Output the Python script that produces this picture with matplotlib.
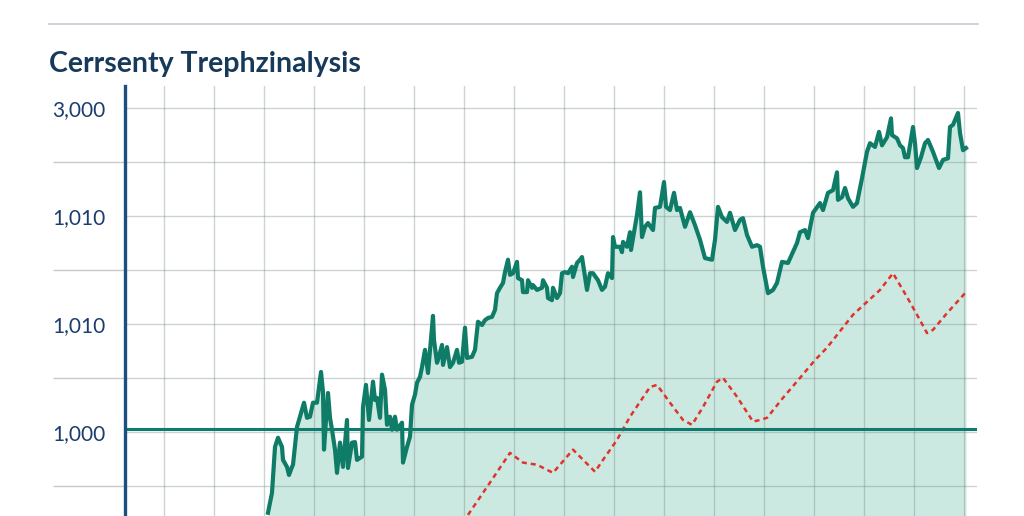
import matplotlib
matplotlib.use("Agg")
import matplotlib.pyplot as plt
from matplotlib.lines import Line2D
import numpy as np

# 値は画像から読み取り (x: 時間, y: 指数)
green_x = [20.8, 21.6, 22.2, 22.8, 23.6, 23.8, 24.6, 25.0, 25.6, 25.8, 26.6, 27.2, 28.0, 28.6, 29.2,
           29.8, 30.6, 31.4, 31.8, 32.0, 32.4, 32.8, 33.2, 33.6, 34.2, 34.6, 35.2, 35.8, 36.6, 36.8,
           37.6, 38.2, 38.6, 39.6, 39.8, 40.4, 41.0, 41.8, 42.2, 42.6, 43.2, 43.6, 44.2, 44.6, 45.2,
           45.6, 46.2, 46.6, 47.6, 47.8, 48.6, 49.2, 49.6, 50.2, 50.6, 51.2, 51.6, 52.2, 52.8, 53.8,
           54.0, 54.6, 54.8, 55.6, 55.8, 56.6, 57.2, 57.8, 58.6, 59.0, 59.6, 60.2, 60.6, 61.6, 62.2,
           62.8, 63.6, 64.2, 64.8, 65.6, 66.2, 66.6, 67.2, 67.8, 68.2, 68.8, 69.2, 69.8, 70.6, 70.8,
           71.6, 71.8, 72.6, 72.8, 73.6, 73.8, 74.6, 75.6, 75.8, 76.6, 76.8, 77.6, 77.8, 78.6, 79.2,
           79.6, 80.2, 80.8, 81.6, 81.8, 82.6, 83.2, 83.6, 84.2, 84.6, 85.2, 85.8, 86.8, 87.6, 88.2,
           88.8, 89.6, 89.8, 90.2, 91.2, 91.6, 91.8, 92.6, 93.2, 93.4, 94.6, 95.2, 95.6, 96.2, 96.8,
           97.8, 98.2, 99.2, 100.0, 100.4, 101.2, 102.0, 102.6, 103.2, 104.2, 105.2, 106.2, 107.2, 108.2, 109.6,
           110.2, 110.8, 111.6, 112.6, 113.2, 114.2, 115.2, 115.8, 116.6, 117.6, 118.6, 119.2, 119.8, 120.8, 121.8,
           122.6, 123.6, 124.8, 126.6, 127.2, 128.2, 128.8, 129.8, 131.2, 131.8, 132.8, 133.8, 134.6, 134.8, 135.6,
           136.2, 136.8, 137.8, 138.6, 139.6, 140.6, 141.2, 142.2, 143.0, 143.6, 144.6, 145.4, 145.6, 146.6, 147.2,
           147.8, 148.2, 148.8, 149.8, 150.2, 150.6, 151.4, 152.2, 152.8, 153.8, 155.0, 155.8, 156.8, 157.2, 157.8,
           158.8, 159.2, 159.8, 160.4]
green_y = [-5.0, -1.3, 7.2, 8.9, 7.2, 4.8, 3.5, 2.0, 3.5, 3.9, 10.9, 12.8, 15.4, 12.6, 12.8,
           15.4, 15.4, 21.1, 17.4, 6.7, 12.2, 17.2, 12.6, 10.4, 6.7, 2.4, 8.0, 3.5, 12.2, 3.3,
           8.0, 8.1, 4.8, 5.4, 14.6, 18.7, 12.2, 19.3, 15.9, 16.3, 12.6, 20.6, 17.8, 11.3, 12.8,
           10.4, 12.8, 10.4, 11.7, 4.3, 7.2, 9.1, 15.0, 16.9, 19.1, 20.2, 22.0, 25.2, 20.9, 31.5,
           27.0, 22.8, 23.3, 26.1, 22.4, 25.7, 22.0, 22.8, 25.2, 22.8, 23.0, 29.3, 23.7, 23.9, 25.2,
           30.4, 29.8, 30.7, 31.1, 31.3, 32.6, 35.7, 36.7, 37.6, 39.6, 41.9, 39.1, 39.4, 41.5, 38.5,
           38.1, 35.9, 35.9, 38.1, 36.7, 37.2, 36.3, 36.7, 38.1, 36.7, 34.8, 34.4, 36.7, 34.8, 35.7,
           39.4, 39.6, 39.4, 40.6, 38.7, 41.3, 41.9, 42.4, 38.7, 36.3, 39.4, 39.4, 38.1, 36.3, 36.9,
           39.4, 38.5, 46.1, 44.3, 44.3, 43.3, 45.2, 44.3, 47.0, 43.7, 50.2, 54.4, 46.1, 48.0, 48.7,
           47.4, 51.5, 51.7, 56.3, 51.7, 51.1, 54.3, 51.1, 51.5, 48.0, 50.7, 48.3, 45.6, 42.2, 41.9,
           45.6, 51.7, 49.8, 48.9, 50.6, 47.4, 49.3, 49.6, 46.5, 44.3, 44.6, 44.3, 40.6, 35.7, 36.3,
           37.6, 41.5, 41.3, 45.0, 47.0, 47.4, 45.9, 50.6, 52.4, 51.1, 54.3, 54.8, 58.1, 53.0, 53.5,
           55.2, 53.3, 51.7, 52.4, 57.0, 61.9, 63.5, 62.8, 65.6, 63.1, 64.6, 68.1, 65.0, 64.4, 63.1,
           62.6, 60.9, 60.9, 66.5, 63.5, 58.9, 60.9, 63.5, 64.1, 61.9, 58.9, 60.4, 60.7, 66.5, 66.9,
           69.1, 65.4, 62.2, 62.6]

red_x = [60.8, 65.2, 69.2, 71.8, 74.6, 77.8, 81.8, 86.2, 87.8, 90.6, 93.2, 97.2, 98.6, 101.2, 103.8,
         105.6, 107.8, 110.6, 111.8, 114.6, 117.8, 119.2, 120.6, 123.8, 127.2, 130.2, 132.6, 137.8, 143.2, 145.8,
         148.6, 151.2, 152.6, 153.8, 156.6, 160.4]
red_y = [-5.4, 0.6, 6.1, 4.3, 3.9, 2.4, 6.7, 2.6, 4.8, 8.5, 12.8, 18.3, 18.7, 15.4, 12.2,
         11.3, 14.6, 19.3, 20.0, 16.5, 11.9, 12.2, 12.6, 16.3, 20.0, 23.3, 25.6, 31.7, 36.3, 39.4,
         35.0, 30.7, 28.3, 28.9, 32.0, 35.9]

baseline = 10.6
ytick_pos = [10, 30, 50, 70]
ytick_labels = ["1,000", "1,010", "1,010", "3,000"]
title = "Cerrsenty Trephzinalysis"

navy = "#1c3d6e"

fig = plt.figure(figsize=(10.24, 5.16), dpi=100)
ax = fig.add_axes([125 / 1024, 0, 852 / 1024, 430 / 516])

ax.fill_between(green_x, green_y, -10, color="#cce9e1", lw=0, zorder=1)
ax.plot(green_x, green_y, color="#0f7c67", lw=3.0, solid_joinstyle="round", zorder=4)
ax.plot(red_x, red_y, color="#e0342a", lw=1.8, ls=(0, (2, 1.6)), zorder=3)
ax.axhline(baseline, color="#0f7a6e", lw=2.2, zorder=3)

ax.set_xlim(-7.8, 162.6)
ax.set_ylim(-5.6, 74.1)

ax.set_xticks(np.arange(0, 161, 10))
ax.set_yticks(ytick_pos)
ax.set_yticklabels(ytick_labels)
ax.set_yticks([0, 20, 40, 60], minor=True)
ax.grid(True, which="both", color=(0.45, 0.5, 0.5), alpha=0.35, lw=1, zorder=2)
ax.set_axisbelow(False)

ax.tick_params(axis="x", length=0, labelbottom=False)
ax.tick_params(axis="y", which="major", length=0, pad=14, labelsize=15, labelcolor=navy)
ax.tick_params(axis="y", which="minor", length=52, width=1, color="#c9c9c9")
for lab in ax.get_yticklabels():
    lab.set_family("Lato")

for s in ["top", "right", "bottom"]:
    ax.spines[s].set_visible(False)
ax.spines["left"].set_color("#1b4f7e")
ax.spines["left"].set_linewidth(2.4)
ax.spines["left"].set_zorder(5)

fig.text(49 / 1024, 444 / 516, title, fontsize=20.5, fontweight="bold",
         family="Lato", color="#17395a", va="baseline", ha="left")
fig.add_artist(Line2D([49 / 1024, 978 / 1024], [492 / 516, 492 / 516],
                      color="#c8c8d2", lw=1.2))

fig.savefig("out.png", dpi=100, facecolor="white")
